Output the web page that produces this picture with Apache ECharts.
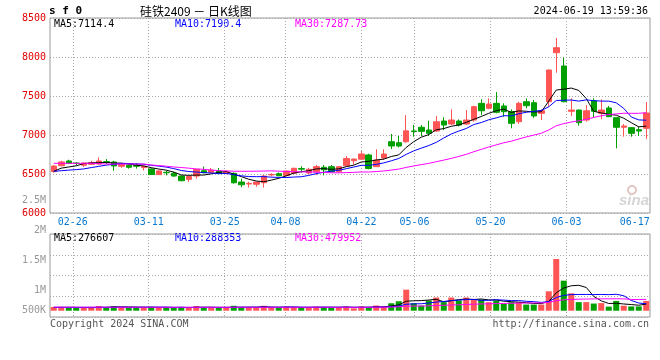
<!DOCTYPE html>
<html><head><meta charset="utf-8">
<script src="https://cdn.jsdelivr.net/npm/echarts@6/dist/echarts.min.js"></script>
<style>html,body{margin:0;padding:0;background:#fff}#c{width:660px;height:360px}</style>
</head><body><div id="c"></div>
<script>
// ---- data ----
const dates = ['02-21','02-22','02-23','02-26','02-27','02-28','02-29','03-01','03-04','03-05','03-06','03-07','03-08','03-11','03-12','03-13','03-14','03-15','03-18','03-19','03-20','03-21','03-22','03-25','03-26','03-27','03-28','03-29','04-01','04-02','04-03','04-08','04-09','04-10','04-11','04-12','04-15','04-16','04-17','04-18','04-19','04-22','04-23','04-24','04-25','04-26','04-29','04-30','05-06','05-07','05-08','05-09','05-10','05-13','05-14','05-15','05-16','05-17','05-20','05-21','05-22','05-23','05-24','05-27','05-28','05-29','05-30','05-31','06-03','06-04','06-05','06-06','06-07','06-11','06-12','06-13','06-14','06-17','06-18','06-19'];
const labelDates = ['02-26','03-11','03-25','04-08','04-22','05-06','05-20','06-03','06-17'];
const gridDates = ['02-26','03-11','03-25','04-08','04-22','05-06','05-20','06-03'];
const open  = [6530,6606,6667,6640,6612,6624,6628,6658,6654,6599,6612,6615,6582,6565,6492,6522,6509,6474,6432,6474,6542,6522,6538,6510,6509,6397,6372,6368,6388,6488,6504,6480,6509,6570,6512,6529,6586,6594,6529,6606,6670,6690,6744,6594,6705,6914,6901,6914,7052,7099,7064,7051,7179,7141,7179,7141,7192,7406,7342,7406,7372,7299,7170,7427,7414,7278,7427,8055,7885,7304,7320,7192,7440,7278,7346,7222,7099,7094,7068,7086];
const close = [6602,6654,6637,6635,6641,6645,6667,6652,6603,6628,6586,6599,6600,6493,6540,6516,6474,6414,6468,6560,6516,6551,6509,6525,6388,6362,6380,6397,6474,6494,6478,6538,6573,6562,6560,6594,6554,6529,6594,6699,6692,6756,6571,6679,6756,6859,6859,7053,7044,7047,7022,7170,7128,7192,7128,7192,7363,7311,7397,7291,7299,7150,7406,7376,7244,7311,7833,8119,7427,7320,7158,7311,7304,7320,7235,7099,7115,7022,7051,7282];
const low   = [6518,6600,6630,6612,6590,6620,6622,6628,6542,6580,6568,6570,6545,6488,6488,6482,6465,6408,6400,6440,6510,6515,6505,6495,6376,6330,6326,6337,6326,6470,6470,6470,6500,6520,6500,6487,6483,6520,6520,6592,6620,6680,6560,6590,6680,6820,6842,6901,6978,6987,6987,7042,7064,7128,7110,7128,7170,7256,7329,7278,7235,7086,7141,7342,7220,7192,7363,7799,7420,7244,7119,7170,7227,7201,7230,6829,6978,6978,6987,6949];
const high  = [6612,6670,6683,6654,6645,6670,6712,6692,6670,6642,6632,6640,6606,6572,6548,6545,6528,6480,6475,6565,6595,6578,6578,6545,6520,6440,6401,6400,6487,6510,6520,6545,6580,6600,6580,6615,6615,6615,6600,6729,6695,6795,6760,6817,6817,7013,6987,7256,7128,7128,7183,7244,7227,7329,7200,7320,7376,7458,7470,7551,7406,7329,7427,7470,7449,7329,7840,8243,7991,7470,7325,7385,7470,7458,7372,7230,7141,7100,7106,7423];
const ma5  = [6535,6575,6590,6605,6633.8,6642.4,6645,6648,6641.6,6639,6627.2,6613.6,6603.2,6581.2,6563.6,6549.6,6524.6,6487.4,6482.4,6486.4,6486.4,6501.8,6520.8,6532.2,6497.8,6467,6432.8,6410.4,6400.2,6421.4,6444.6,6476.2,6511.4,6529,6542.2,6565.4,6568.6,6559.8,6566.2,6594,6613.6,6654,6662.4,6679.4,6690.8,6724.2,6744.8,6841.2,6914.2,6972.4,7005,7067.2,7082.2,7111.8,7128,7162,7200.6,7237.2,7278.2,7310.8,7332.2,7289.6,7308.6,7304.4,7295,7297.4,7434,7576.6,7586.8,7602,7571.4,7467,7304,7282.6,7265.6,7253.8,7214.6,7158.2,7104.4,7113.8];
const ma10 = [6535,6542,6550,6556,6565,6582,6598,6614,6624,6636.4,6634.8,6629.3,6625.6,6611.4,6601.3,6588.4,6569.1,6545.3,6531.8,6525,6518,6513.2,6504.1,6507.3,6492.1,6476.7,6467.3,6465.6,6466.2,6459.6,6455.8,6454.5,6460.9,6464.6,6481.8,6505,6522.4,6535.6,6547.6,6568.1,6589.5,6611.3,6611.1,6622.8,6642.4,6668.9,6699.4,6751.8,6796.8,6831.6,6864.6,6906,6961.7,7013,7050.2,7083.5,7133.9,7159.7,7195,7219.4,7247.1,7245.1,7272.9,7291.3,7302.9,7314.8,7361.8,7442.6,7445.6,7448.5,7434.4,7450.5,7440.3,7434.7,7433.8,7412.6,7340.8,7231.1,7193.5,7189.7];
const ma30 = [6637,6637,6637,6637,6637,6637,6632,6628,6628,6628,6628,6628,6628,6615,6608,6600,6590,6583,6575,6565,6560,6550,6543,6540,6536,6535,6535,6536,6538,6540.3,6536.2,6532.3,6530.2,6527.8,6525.1,6523.4,6519.6,6515.5,6515.2,6517.6,6521.1,6526.3,6525.4,6531.6,6538.8,6550.2,6563,6584.3,6603.5,6619.8,6636.6,6657.3,6677.9,6700.1,6724.8,6752.5,6785.2,6815.7,6846.5,6873,6900.4,6920.8,6948.6,6975.7,6998.5,7022.4,7065,7118,7145.8,7166.5,7182,7200.5,7225,7246.3,7262.3,7270.3,7278.8,7277.8,7278,7285.9];
// volume, thousand lots
const vol  = [155,140,125,115,135,125,195,135,195,155,115,155,125,165,135,125,115,155,125,195,135,125,115,135,205,155,125,135,205,135,125,165,135,125,145,165,155,120,147,177,100,177,122,217,177,312,397,882,312,217,427,552,357,552,427,552,457,467,357,427,287,357,357,257,257,257,812,2162,1257,727,360,360,300,320,170,410,210,180,180,410];
const vma5  = [140,142,140,138,134,128,139,141,157,161,159,151,149,143,139,141,133,139,131,143,145,147,139,141,143,147,147,151,165,151,145,153,153,137,139,147,145,142,146.4,152.8,139.8,144.2,144.6,158.6,158.6,201,245,397,416,424,447,478,373,421,463,488,469,491,452,452,399,379,357,337,303,297,388,749,949,1043,1063.6,973.2,600.8,413.4,302,312,282,258,230,278];
const vma10 = [138,139,140,140,141,141,143,144,146,147.5,143.5,145,145,150,150,150,142,144,137,141,143,140,139,136,143,146,147,145,153,147,146,150,152,151,145,146,149,147.5,141.7,145.9,143.4,144.6,143.3,152.5,155.7,170.4,194.6,270.8,287.3,291.3,324,361.5,385,418.5,443.5,467.5,473.5,432,436.5,457.5,443.5,424,424,394.5,377.5,348,383.5,553,643,673,680.3,680.6,674.9,681.2,672.5,687.8,627.6,429.4,321.7,290];
const vma30 = [150,150,149,149,148,148,148,147,147,147,146,146,146,146,145,145,145,145,145,145,145,145,145,145,145,145,145,145,145,145.2,144.2,145,145.3,145.7,146,147.3,146,145.5,143.9,144.6,144.1,144.9,144.8,146.5,147.9,154.1,163.5,187.8,194,194.7,204.5,218.7,226.8,240.7,248.1,261.3,272.4,283.4,288.5,298.2,303.6,310,317.4,321.8,325.6,328.6,350.5,418.6,455.6,473.9,482.6,488.7,494.6,498.1,497.8,501.1,494.9,471.5,467.1,473.5];
const priceLegend = ['MA5:7114.4','MA10:7190.4','MA30:7287.73'];
const volLegend = ['MA5:276607','MA10:288353','MA30:479952'];

// ---- styling ----
const UP = '#ff5555', DOWN = '#00a000';
const MONO = "'DejaVu Sans Mono', monospace";
const GRIDC = '#a8a8a8', BORDER = '#999';
const dotted = {color: GRIDC, type: [1, 2], width: 1};
const isLabel = (i, v) => labelDates.indexOf(v) >= 0;
const isGrid = (i, v) => gridDates.indexOf(v) >= 0;

const candleData = dates.map((d, i) => [open[i], close[i], low[i], high[i]]);
const volData = vol.map((v, i) => ({value: v, itemStyle: {color: close[i] >= open[i] ? UP : DOWN}}));

const chart = echarts.init(document.getElementById('c'), null, {renderer: 'canvas', width: 660, height: 360});
const lineS = (name, data, color, xi, yi) => ({
  name, type: 'line', data, xAxisIndex: xi, yAxisIndex: yi, symbol: 'none', silent: true,
  lineStyle: {color, width: 1}, itemStyle: {color}, z: 3
});

chart.setOption({
  animation: false,
  backgroundColor: '#fff',
  grid: [
    {left: 50, top: 18, width: 600, height: 195, show: true, borderColor: BORDER, borderWidth: 1, backgroundColor: 'transparent'},
    {left: 50, top: 234, width: 600, height: 83, show: true, borderColor: BORDER, borderWidth: 1, backgroundColor: 'transparent'},
    {left: 50, top: 200, width: 600, height: 150, show: false}
  ],
  xAxis: [
    {gridIndex: 0, type: 'category', data: dates, boundaryGap: true, show: false},
    {gridIndex: 0, type: 'category', data: dates, boundaryGap: false, position: 'bottom',
      axisLine: {show: false}, axisTick: {show: false},
      axisLabel: {interval: isLabel, color: '#0a78d0', fontFamily: MONO, fontSize: 10, margin: 4},
      splitLine: {show: true, interval: isGrid, lineStyle: dotted}},
    {gridIndex: 1, type: 'category', data: dates, boundaryGap: true, show: false},
    {gridIndex: 1, type: 'category', data: dates, boundaryGap: false,
      axisLine: {show: false}, axisTick: {show: false}, axisLabel: {show: false},
      splitLine: {show: true, interval: isGrid, lineStyle: dotted}},
    {gridIndex: 2, type: 'value', show: false, min: 0, max: 1}
  ],
  yAxis: [
    {gridIndex: 0, type: 'value', min: 6000, max: 8500, interval: 500,
      axisLine: {show: false}, axisTick: {show: false},
      axisLabel: {color: '#e00000', fontFamily: MONO, fontSize: 10, margin: 4, formatter: v => String(v)},
      splitLine: {show: true, lineStyle: dotted}},
    {gridIndex: 1, type: 'value', min: -262.5, max: 3208, show: false},
    {gridIndex: 1, type: 'value', min: 0, max: 4, interval: 1,
      axisLine: {show: false}, axisTick: {show: false}, axisLabel: {show: false},
      splitLine: {show: true, lineStyle: dotted}},
    {gridIndex: 2, type: 'value', min: 0, max: 2500, interval: 500,
      axisLine: {show: false}, axisTick: {show: false}, splitLine: {show: false},
      axisLabel: {color: '#999', fontFamily: MONO, fontSize: 10, margin: 4,
        formatter: v => v === 0 ? '' : (v >= 1000 ? '{n|' + (v / 1000) + 'M}' : '{u|' + v + 'K}'),
        rich: {
          n: {color: '#999', fontFamily: MONO, fontSize: 10},
          u: {color: '#999', fontFamily: MONO, fontSize: 10, padding: [0, 0, 20, 0]}
        }}}
  ],
  series: [
    {type: 'candlestick', data: candleData, xAxisIndex: 0, yAxisIndex: 0, barWidth: 6, silent: true,
      itemStyle: {color: UP, color0: DOWN, borderColor: UP, borderColor0: DOWN, borderWidth: 1}, z: 2},
    lineS('MA5', ma5, '#000000', 0, 0),
    lineS('MA10', ma10, '#0000ff', 0, 0),
    lineS('MA30', ma30, '#ff00ff', 0, 0),
    {type: 'bar', data: volData, xAxisIndex: 2, yAxisIndex: 1, barWidth: 6, silent: true, z: 2},
    lineS('VMA5', vma5, '#000000', 2, 1),
    lineS('VMA10', vma10, '#0000ff', 2, 1),
    lineS('VMA30', vma30, '#ff00ff', 2, 1)
  ],
  graphic: [
    {type: 'text', x: 49, y: 11, style: {text: 's f 0', font: "bold 11px 'DejaVu Sans Mono'", fill: '#000', verticalAlign: 'middle'}},
    {type: 'text', x: 140, y: 11, style: {text: '硅铁2409 － 日K线图', font: "12px 'Noto Sans CJK SC'", fill: '#000', verticalAlign: 'middle'}},
    {type: 'text', x: 648, y: 11, style: {text: '2024-06-19 13:59:36', font: "10px 'DejaVu Sans Mono'", fill: '#000', align: 'right', verticalAlign: 'middle'}},
    {type: 'text', x: 54, y: 24, style: {text: priceLegend[0], font: "10px 'DejaVu Sans Mono'", fill: '#000', verticalAlign: 'middle'}},
    {type: 'text', x: 175, y: 24, style: {text: priceLegend[1], font: "10px 'DejaVu Sans Mono'", fill: '#0000ff', verticalAlign: 'middle'}},
    {type: 'text', x: 295, y: 24, style: {text: priceLegend[2], font: "10px 'DejaVu Sans Mono'", fill: '#ff00ff', verticalAlign: 'middle'}},
    {type: 'text', x: 54, y: 238, style: {text: volLegend[0], font: "10px 'DejaVu Sans Mono'", fill: '#000', verticalAlign: 'middle'}},
    {type: 'text', x: 175, y: 238, style: {text: volLegend[1], font: "10px 'DejaVu Sans Mono'", fill: '#0000ff', verticalAlign: 'middle'}},
    {type: 'text', x: 295, y: 238, style: {text: volLegend[2], font: "10px 'DejaVu Sans Mono'", fill: '#ff00ff', verticalAlign: 'middle'}},
    {type: 'text', x: 50, y: 324, style: {text: 'Copyright 2024 SINA.COM', font: "10px 'DejaVu Sans Mono'", fill: '#555', verticalAlign: 'middle'}},
    {type: 'text', x: 649, y: 324, style: {text: 'http://finance.sina.com.cn', font: "10px 'DejaVu Sans Mono'", fill: '#555', align: 'right', verticalAlign: 'middle'}},
    {type: 'circle', shape: {cx: 632, cy: 190, r: 4}, style: {fill: 'none', stroke: '#e2c4c4', lineWidth: 2}, silent: true},
    {type: 'text', x: 619, y: 201, style: {text: 'sina', font: "italic bold 15px 'Liberation Sans'", fill: '#d6d6d6', verticalAlign: 'middle'}, silent: true}
  ]
});
</script>
</body></html>
